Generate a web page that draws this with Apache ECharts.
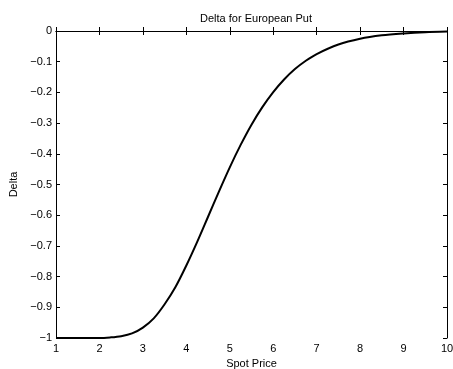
<!DOCTYPE html>
<html>
<head>
<meta charset="utf-8">
<script src="https://cdn.jsdelivr.net/npm/echarts@6/dist/echarts.min.js"></script>
<style>html,body{margin:0;padding:0;background:#fff;}#c{width:453px;height:369px;}</style>
</head>
<body>
<div id="c"></div>
<script>
// Spot price samples and the delta
var spot = [1, 1.5, 2, 2.25, 2.5, 2.75, 3, 3.25, 3.5, 3.75, 4, 4.25, 4.5, 4.75, 5, 5.25, 5.5, 5.75, 6, 6.25, 6.5, 6.75, 7, 7.5, 8, 8.5, 9, 9.5, 10];
var delta = [-1.000, -1.000, -1.000, -0.998, -0.994, -0.985, -0.966, -0.936, -0.890, -0.834, -0.764, -0.687, -0.605, -0.523, -0.444, -0.371, -0.305, -0.248, -0.199, -0.158, -0.124, -0.097, -0.075, -0.044, -0.025, -0.014, -0.008, -0.004, -0.002];
var xTicks = [1, 2, 3, 4, 5, 6, 7, 8, 9, 10];
var yTicks = [0, -0.1, -0.2, -0.3, -0.4, -0.5, -0.6, -0.7, -0.8, -0.9, -1];
var titleText = 'Delta for European Put';
var xName = 'Spot Price';
var yName = 'Delta';

var points = spot.map(function (s, i) { return [s, delta[i]]; });
var font = 'Liberation Sans, Arial, Helvetica, sans-serif';
function fmtY(v) {
  var r = Math.round(v * 10) / 10;
  if (r === 0) return '0';
  return (r < 0 ? '\u2212' : '') + String(Math.abs(r));
}
var chart = echarts.init(document.getElementById('c'), null, {renderer: 'canvas'});
var axisLine = {show: true, lineStyle: {color: '#000', width: 1}};
var tick = {show: true, inside: true, length: 4, lineStyle: {color: '#000', width: 1}};
chart.setOption({
  backgroundColor: '#fff',
  animation: false,
  title: {
    text: titleText, left: 251, top: 8, textAlign: 'center',
    textStyle: {fontFamily: font, fontSize: 11, fontWeight: 'normal', color: '#000'}
  },
  grid: {left: 56, right: 6, top: 31, bottom: 31, containLabel: false, outerBoundsMode: 'none'},
  xAxis: [{
    type: 'value', min: xTicks[0], max: xTicks[xTicks.length - 1], interval: 1, position: 'bottom',
    name: xName, nameLocation: 'middle', nameGap: 19,
    nameTextStyle: {fontFamily: font, fontSize: 11, color: '#000'},
    axisLine: axisLine, axisTick: tick, splitLine: {show: false},
    axisLabel: {fontFamily: font, fontSize: 11, color: '#000', margin: 5}
  }, {
    type: 'value', min: xTicks[0], max: xTicks[xTicks.length - 1], interval: 1, position: 'top',
    axisLine: axisLine, axisTick: tick, splitLine: {show: false}, axisLabel: {show: false}
  }],
  yAxis: [{
    type: 'value', min: yTicks[yTicks.length - 1], max: yTicks[0], interval: 0.1, position: 'left',
    name: yName, nameLocation: 'middle', nameGap: 37, nameRotate: 90,
    nameTextStyle: {fontFamily: font, fontSize: 11, color: '#000'},
    axisLine: axisLine, axisTick: tick, splitLine: {show: false},
    axisLabel: {fontFamily: font, fontSize: 11, color: '#000', margin: 4, formatter: fmtY}
  }, {
    type: 'value', min: yTicks[yTicks.length - 1], max: yTicks[0], interval: 0.1, position: 'right',
    axisLine: axisLine, axisTick: tick, splitLine: {show: false}, axisLabel: {show: false}
  }],
  series: [{
    type: 'line', data: points, smooth: 0.3, showSymbol: false, symbol: 'none',
    xAxisIndex: 0, yAxisIndex: 0, clip: true,
    lineStyle: {color: '#000', width: 2}
  }]
});
</script>
</body>
</html>
